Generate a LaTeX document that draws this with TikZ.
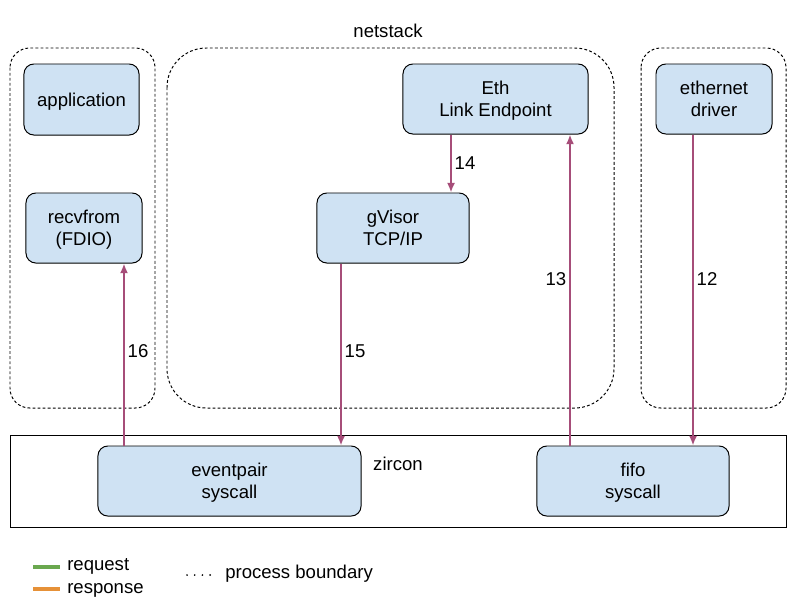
\documentclass[tikz,border=0pt]{standalone}
\usepackage{fontspec}
\setmainfont{Liberation Sans}
\usepackage{xcolor}
\definecolor{boxBlue}{HTML}{cfe2f3}
\definecolor{flowMagenta}{HTML}{a64d79}
\definecolor{reqGreen}{HTML}{6aa84f}
\definecolor{respOrange}{HTML}{e69138}
\usepackage{tikz}
\usetikzlibrary{arrows.meta,positioning,calc}

\begin{document}
\begin{tikzpicture}[
  x=0.025cm, y=-0.025cm,
  every node/.style={font=\fontsize{13.2}{15.5}\selectfont},
  box/.style={draw=black, line width=0.7pt, fill=boxBlue, rounded corners=7pt, align=center, inner sep=0pt, text depth=0pt},
  boundary/.style={draw=black, line width=0.7pt, dash pattern=on 2pt off 1.6pt},
  flow/.style={flowMagenta, line width=1.3pt, -{Latex[length=2.4mm, width=2mm]}},
  stepLabel/.style={right, inner sep=2pt, text=black},
]
\useasboundingbox (0,0) rectangle (800,600);

% process boundaries
\draw[boundary, rounded corners=14pt] (10,48) rectangle (155,408);
\draw[boundary, rounded corners=28pt] (167,48) rectangle (614,408);
\draw[boundary, rounded corners=14pt] (641,48) rectangle (786,408);
\node (netstack) at (388,31) {netstack};

% kernel
\draw[line width=0.7pt] (10,435) rectangle (786,527);
\node (zircon) at (398,464) {zircon};

% components
\node[box, minimum width=2.875cm, minimum height=1.775cm] (app)  at (81.5,99.5) {application};
\node[box, minimum width=2.9cm,   minimum height=1.75cm]  (recv) at (84,228)    {recvfrom\\(FDIO)};
\node[box, minimum width=4.625cm, minimum height=1.75cm]  (eth)  at (495.5,99)  {Eth\\Link Endpoint};
\node[box, minimum width=3.8cm,   minimum height=1.75cm]  (gv)   at (393,228)   {gVisor\\TCP/IP};
\node[box, minimum width=2.9cm,   minimum height=1.75cm]  (drv)  at (714,99)    {ethernet\\driver};
\node[box, minimum width=6.575cm, minimum height=1.75cm]  (evp)  at (229.5,481) {eventpair\\syscall};
\node[box, minimum width=4.8cm,   minimum height=1.75cm]  (fifo) at (633,481)   {fifo\\syscall};

% numbered steps
\draw[flow] (drv.south -| 693,0) -- node[stepLabel, pos=0.465] {12} (fifo.north -| 693,0);
\draw[flow] (fifo.north -| 570,0) -- node[stepLabel, left, pos=0.535] {13} (eth.south -| 570,0);
\draw[flow] (eth.south -| 451,0) -- node[stepLabel] {14} (gv.north -| 451,0);
\draw[flow] (gv.south -| 341,0) -- node[stepLabel, pos=0.48] {15} (evp.north -| 341,0);
\draw[flow] (evp.north -| 124,0) -- node[stepLabel, pos=0.52] {16} (recv.south -| 124,0);

% legend
\draw[reqGreen, line width=2.8pt] (33,567) coordinate (reqA) -- (60,567) coordinate (reqB);
\node[right, inner sep=0pt] (req) at (67,566) {request};
\draw[respOrange, line width=2.8pt] (33,589) coordinate (respA) -- (60,589) coordinate (respB);
\node[right, inner sep=0pt] (resp) at (67,590) {response};
\draw[line width=1.4pt, line cap=round, dash pattern=on 0pt off 5.5pt] (187,575) coordinate (pbA) -- (211,575) coordinate (pbB);
\node[right, inner sep=0pt] (pb) at (225,574) {process boundary};
\end{tikzpicture}
\end{document}
